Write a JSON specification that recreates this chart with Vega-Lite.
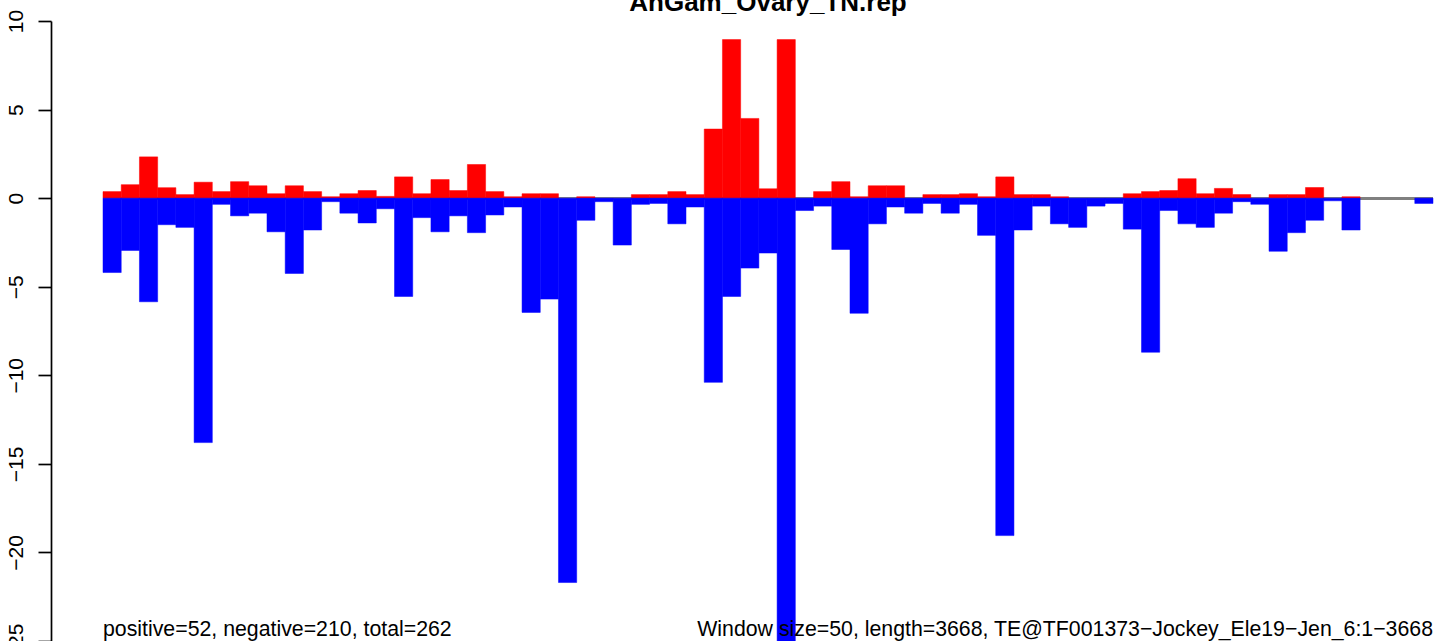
{
  "$schema": "https://vega.github.io/schema/vega-lite/v6.json",
  "width": 1330,
  "height": 620,
  "autosize": {"type": "none"},
  "padding": {"left": 103, "top": 21, "right": 11, "bottom": 0},
  "background": "white",
  "title": {"text": "AnGam_Ovary_TN.rep", "font": "Liberation Sans", "fontSize": 26, "fontWeight": "bold", "color": "black", "anchor": "middle", "frame": "group", "baseline": "alphabetic", "offset": -28},
  "config": {"view": {"stroke": null}},
  "datasets": {
    "win": [
      {"start": 0, "end": 50, "pos": 0.37, "neg": -4.2},
      {"start": 50, "end": 100, "pos": 0.76, "neg": -2.95},
      {"start": 100, "end": 150, "pos": 2.33, "neg": -5.85},
      {"start": 150, "end": 200, "pos": 0.59, "neg": -1.5},
      {"start": 200, "end": 250, "pos": 0.2, "neg": -1.65},
      {"start": 250, "end": 300, "pos": 0.9, "neg": -13.8},
      {"start": 300, "end": 350, "pos": 0.37, "neg": -0.35},
      {"start": 350, "end": 400, "pos": 0.93, "neg": -1.0},
      {"start": 400, "end": 450, "pos": 0.7, "neg": -0.85},
      {"start": 450, "end": 500, "pos": 0.25, "neg": -1.9},
      {"start": 500, "end": 550, "pos": 0.7, "neg": -4.25},
      {"start": 550, "end": 600, "pos": 0.37, "neg": -1.8},
      {"start": 600, "end": 650, "pos": 0.08, "neg": -0.2},
      {"start": 650, "end": 700, "pos": 0.25, "neg": -0.85},
      {"start": 700, "end": 750, "pos": 0.43, "neg": -1.4},
      {"start": 750, "end": 800, "pos": 0.1, "neg": -0.6},
      {"start": 800, "end": 850, "pos": 1.2, "neg": -5.55},
      {"start": 850, "end": 900, "pos": 0.25, "neg": -1.1},
      {"start": 900, "end": 950, "pos": 1.05, "neg": -1.9},
      {"start": 950, "end": 1000, "pos": 0.43, "neg": -1.0},
      {"start": 1000, "end": 1050, "pos": 1.9, "neg": -1.95},
      {"start": 1050, "end": 1100, "pos": 0.37, "neg": -0.95},
      {"start": 1100, "end": 1150, "pos": 0.08, "neg": -0.5},
      {"start": 1150, "end": 1200, "pos": 0.25, "neg": -6.45},
      {"start": 1200, "end": 1250, "pos": 0.25, "neg": -5.7},
      {"start": 1250, "end": 1300, "pos": 0, "neg": -21.7},
      {"start": 1300, "end": 1350, "pos": 0.08, "neg": -1.25},
      {"start": 1350, "end": 1400, "pos": 0, "neg": -0.2},
      {"start": 1400, "end": 1450, "pos": 0, "neg": -2.65},
      {"start": 1450, "end": 1500, "pos": 0.2, "neg": -0.35},
      {"start": 1500, "end": 1550, "pos": 0.2, "neg": -0.3},
      {"start": 1550, "end": 1600, "pos": 0.37, "neg": -1.45},
      {"start": 1600, "end": 1650, "pos": 0.2, "neg": -0.5},
      {"start": 1650, "end": 1700, "pos": 3.9, "neg": -10.4},
      {"start": 1700, "end": 1750, "pos": 8.95, "neg": -5.55},
      {"start": 1750, "end": 1800, "pos": 4.5, "neg": -3.95},
      {"start": 1800, "end": 1850, "pos": 0.53, "neg": -3.1},
      {"start": 1850, "end": 1900, "pos": 8.95, "neg": -27},
      {"start": 1900, "end": 1950, "pos": 0, "neg": -0.7},
      {"start": 1950, "end": 2000, "pos": 0.37, "neg": -0.45},
      {"start": 2000, "end": 2050, "pos": 0.93, "neg": -2.9},
      {"start": 2050, "end": 2100, "pos": 0.08, "neg": -6.5},
      {"start": 2100, "end": 2150, "pos": 0.7, "neg": -1.45},
      {"start": 2150, "end": 2200, "pos": 0.7, "neg": -0.5},
      {"start": 2200, "end": 2250, "pos": 0, "neg": -0.85},
      {"start": 2250, "end": 2300, "pos": 0.2, "neg": -0.3},
      {"start": 2300, "end": 2350, "pos": 0.2, "neg": -0.85},
      {"start": 2350, "end": 2400, "pos": 0.25, "neg": -0.35},
      {"start": 2400, "end": 2450, "pos": 0.08, "neg": -2.1},
      {"start": 2450, "end": 2500, "pos": 1.2, "neg": -19.05},
      {"start": 2500, "end": 2550, "pos": 0.2, "neg": -1.8},
      {"start": 2550, "end": 2600, "pos": 0.2, "neg": -0.45},
      {"start": 2600, "end": 2650, "pos": 0.08, "neg": -1.45},
      {"start": 2650, "end": 2700, "pos": 0, "neg": -1.65},
      {"start": 2700, "end": 2750, "pos": 0, "neg": -0.45},
      {"start": 2750, "end": 2800, "pos": 0, "neg": -0.3},
      {"start": 2800, "end": 2850, "pos": 0.25, "neg": -1.75},
      {"start": 2850, "end": 2900, "pos": 0.37, "neg": -8.7},
      {"start": 2900, "end": 2950, "pos": 0.43, "neg": -0.7},
      {"start": 2950, "end": 3000, "pos": 1.1, "neg": -1.45},
      {"start": 3000, "end": 3050, "pos": 0.25, "neg": -1.65},
      {"start": 3050, "end": 3100, "pos": 0.55, "neg": -0.85},
      {"start": 3100, "end": 3150, "pos": 0.2, "neg": -0.2},
      {"start": 3150, "end": 3200, "pos": 0, "neg": -0.35},
      {"start": 3200, "end": 3250, "pos": 0.2, "neg": -3.0},
      {"start": 3250, "end": 3300, "pos": 0.2, "neg": -1.95},
      {"start": 3300, "end": 3350, "pos": 0.6, "neg": -1.25},
      {"start": 3350, "end": 3400, "pos": 0, "neg": -0.15},
      {"start": 3400, "end": 3450, "pos": 0.08, "neg": -1.8},
      {"start": 3450, "end": 3500, "pos": 0, "neg": 0},
      {"start": 3500, "end": 3550, "pos": 0, "neg": 0},
      {"start": 3550, "end": 3600, "pos": 0, "neg": 0},
      {"start": 3600, "end": 3650, "pos": 0, "neg": -0.3}
    ]
  },
  "data": {"name": "win"},
  "layer": [
    {
      "mark": {"type": "rule", "color": "#808080", "strokeWidth": 2},
      "encoding": {
        "y": {
          "datum": 0,
          "type": "quantitative",
          "scale": {"domain": [-25, 10], "nice": false, "zero": false},
          "axis": {
            "values": [-25, -20, -15, -10, -5, 0, 5, 10],
            "offset": 52,
            "title": null,
            "grid": false,
            "labelAngle": 270,
            "labelAlign": "center",
            "labelBaseline": "alphabetic",
            "labelFont": "Liberation Sans",
            "labelFontSize": 21,
            "labelColor": "black",
            "labelPadding": 16,
            "labelFlush": false,
            "labelOverlap": false,
            "labelBound": false,
            "tickSize": 13,
            "tickColor": "black",
            "tickWidth": 1.7,
            "domainColor": "black",
            "domainWidth": 1.7
          }
        }
      }
    },
    {
      "transform": [{"filter": "datum.pos > 0"}],
      "mark": {"type": "rect", "color": "#FF0000", "stroke": "#FF0000", "strokeWidth": 0.5},
      "encoding": {
        "x": {"field": "start", "type": "quantitative", "scale": {"domain": [0, 3650], "nice": false, "zero": false}, "axis": null},
        "x2": {"field": "end"},
        "y": {"field": "pos", "type": "quantitative"},
        "y2": {"datum": 0}
      }
    },
    {
      "transform": [{"filter": "datum.neg < 0"}],
      "mark": {"type": "rect", "color": "#0000FF", "stroke": "#0000FF", "strokeWidth": 0.5},
      "encoding": {
        "x": {"field": "start", "type": "quantitative"},
        "x2": {"field": "end"},
        "y": {"field": "neg", "type": "quantitative"},
        "y2": {"datum": 0}
      }
    },
    {
      "data": {"values": [{"label": "positive=52, negative=210, total=262"}]},
      "mark": {"type": "text", "align": "left", "baseline": "alphabetic", "font": "Liberation Sans", "fontSize": 21.3, "color": "black"},
      "encoding": {
        "x": {"datum": 0, "type": "quantitative"},
        "y": {"datum": -24.7, "type": "quantitative"},
        "text": {"field": "label"}
      }
    },
    {
      "data": {"values": [{"label": "Window size=50, length=3668, TE@TF001373−Jockey_Ele19−Jen_6:1−3668"}]},
      "mark": {"type": "text", "align": "right", "baseline": "alphabetic", "font": "Liberation Sans", "fontSize": 21.3, "color": "black"},
      "encoding": {
        "x": {"datum": 3650, "type": "quantitative"},
        "y": {"datum": -24.7, "type": "quantitative"},
        "text": {"field": "label"}
      }
    }
  ]
}
